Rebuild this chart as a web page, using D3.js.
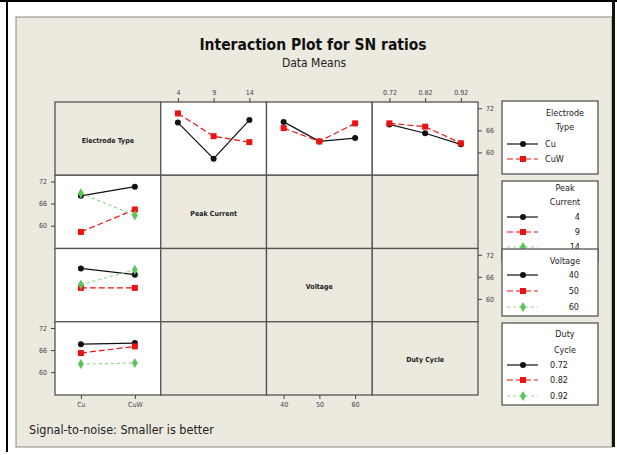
<!DOCTYPE html>
<html>
<head>
<meta charset="utf-8">
<script src="https://cdn.jsdelivr.net/npm/d3@7"></script>
<style>
  body { margin: 0; background: #fff; }
  text { font-family: "DejaVu Sans Condensed", "DejaVu Sans", sans-serif; }
</style>
</head>
<body>
<div id="chart"></div>
<script>
// factors and levels
var factorNames = ["Electrode Type", "Peak Current", "Voltage", "Duty Cycle"];
var electrodeTypes = ["Cu", "CuW"];
var peakCurrentLevels = [4, 9, 14];
var voltageLevels = [40, 50, 60];
var dutyCycleLevels = ["0.72", "0.82", "0.92"];

// SN ratio means (Cu / CuW) at each level of the other factor
var cuByPeak = [68.1, 58.3, 68.8];
var cuwByPeak = [70.6, 64.4, 62.8];
var cuByVoltage = [68.3, 63.0, 63.9];
var cuwByVoltage = [66.6, 63.0, 67.9];
var cuByDuty = [67.6, 65.2, 62.2];
var cuwByDuty = [67.9, 67.0, 62.5];

var yTicks = [60, 66, 72];

var levels = [electrodeTypes, peakCurrentLevels, voltageLevels, dutyCycleLevels];
var cuBy = [null, cuByPeak, cuByVoltage, cuByDuty];
var cuwBy = [null, cuwByPeak, cuwByVoltage, cuwByDuty];

var width = 617, height = 455;
var bg = "#ECE9DF";

var svg = d3.select("#chart").append("svg")
    .attr("width", width)
    .attr("height", height);

// frame
svg.append("rect").attr("x", 0).attr("y", 0).attr("width", width).attr("height", height).attr("fill", "#fff");
svg.append("rect").attr("x", 16).attr("y", 17).attr("width", 596).attr("height", 430)
    .attr("fill", bg).attr("stroke", "#8a8a86").attr("stroke-width", 1);
svg.append("rect").attr("x", 0).attr("y", 0).attr("width", width).attr("height", 2).attr("fill", "#000");
svg.append("rect").attr("x", 6).attr("y", 0).attr("width", 2).attr("height", 452).attr("fill", "#000");
svg.append("rect").attr("x", 612).attr("y", 0).attr("width", 3).attr("height", 447).attr("fill", "#111");

// titles
svg.append("text").attr("x", 313).attr("y", 50).attr("text-anchor", "middle")
    .attr("font-size", "15.5px").attr("font-weight", "bold").attr("fill", "#111")
    .text("Interaction Plot for SN ratios");
svg.append("text").attr("x", 314).attr("y", 67).attr("text-anchor", "middle")
    .attr("font-size", "12px").attr("fill", "#222")
    .text("Data Means");
svg.append("text").attr("x", 29).attr("y", 434)
    .attr("font-size", "12.5px").attr("fill", "#222")
    .text("Signal-to-noise: Smaller is better");

// matrix geometry
var gx0 = 55, gy0 = 102, gw = 423, gh = 293;
var cw = gw / 4, ch = gh / 4;

var styles = [
    {color: "#111", dash: null, shape: "circle"},
    {color: "#EE1111", dash: "6,3", shape: "square"},
    {color: "#5CC45C", dash: "3,3", shape: "diamond"}
];

function xScale(c) {
    return d3.scalePoint().domain(levels[c]).range([gx0 + c * cw, gx0 + (c + 1) * cw]).padding(0.48);
}
function yScale(r) {
    return d3.scaleLinear().domain([53.8, 73.7]).range([gy0 + (r + 1) * ch, gy0 + r * ch]);
}

function drawMarker(g, shape, color, x, y) {
    if (shape === "circle") {
        g.append("circle").attr("cx", x).attr("cy", y).attr("r", 3).attr("fill", color);
    } else if (shape === "square") {
        g.append("rect").attr("x", x - 3).attr("y", y - 3).attr("width", 6).attr("height", 6).attr("fill", color);
    } else {
        g.append("path").attr("d", d3.symbol(d3.symbolDiamond, 30)()).attr("transform", "translate(" + x + "," + y + ")").attr("fill", color);
    }
}

function drawSeries(g, pts, st) {
    var line = d3.line().x(d => d[0]).y(d => d[1]);
    var p = g.append("path").datum(pts).attr("d", line).attr("fill", "none")
        .attr("stroke", st.shape === "diamond" ? "#8fd68f" : st.color)
        .attr("stroke-width", 1.2);
    if (st.dash) p.attr("stroke-dasharray", st.dash);
    pts.forEach(d => drawMarker(g, st.shape, st.color, d[0], d[1]));
}

// cells
for (var r = 0; r < 4; r++) {
    for (var c = 0; c < 4; c++) {
        var isPlot = (r === 0 && c > 0) || (c === 0 && r > 0);
        svg.append("rect")
            .attr("x", gx0 + c * cw).attr("y", gy0 + r * ch)
            .attr("width", cw).attr("height", ch)
            .attr("fill", isPlot ? "#fff" : bg)
            .attr("stroke", "#555").attr("stroke-width", 1.3);
        if (r === c) {
            svg.append("text")
                .attr("x", gx0 + c * cw + cw / 2).attr("y", gy0 + r * ch + ch / 2 + 4)
                .attr("text-anchor", "middle").attr("font-size", "7px").attr("font-weight", "bold")
                .attr("fill", "#222").text(factorNames[r]);
        }
    }
}

// plots
var plots = svg.append("g");
for (var f = 1; f < 4; f++) {
    // top row: x = factor f, series = electrode type
    var xs = xScale(f), ys = yScale(0);
    drawSeries(plots, levels[f].map((lv, i) => [xs(lv), ys(cuBy[f][i])]), styles[0]);
    drawSeries(plots, levels[f].map((lv, i) => [xs(lv), ys(cuwBy[f][i])]), styles[1]);
    // first column: x = electrode type, series = levels of factor f
    var x0 = xScale(0), yr = yScale(f);
    levels[f].forEach(function (lv, j) {
        drawSeries(plots, [[x0("Cu"), yr(cuBy[f][j])], [x0("CuW"), yr(cuwBy[f][j])]], styles[j]);
    });
}

// axes
function styleAxis(g) {
    g.select(".domain").remove();
    g.selectAll(".tick line").attr("stroke", "#444");
    g.selectAll(".tick text").attr("font-size", "7px").attr("fill", "#444")
        .attr("font-family", "'DejaVu Sans Condensed', 'DejaVu Sans', sans-serif");
}
[1, 3].forEach(function (c) {
    svg.append("g").attr("transform", "translate(0," + gy0 + ")")
        .call(d3.axisTop(xScale(c)).tickSize(4).tickPadding(3).tickFormat(String)).call(styleAxis);
});
[0, 2].forEach(function (c) {
    svg.append("g").attr("transform", "translate(0," + (gy0 + gh) + ")")
        .call(d3.axisBottom(xScale(c)).tickSize(4).tickPadding(3).tickFormat(String)).call(styleAxis);
});
[0, 2].forEach(function (r) {
    svg.append("g").attr("transform", "translate(" + (gx0 + gw) + ",0)")
        .call(d3.axisRight(yScale(r)).tickValues(yTicks).tickSize(4).tickPadding(4)).call(styleAxis);
});
[1, 3].forEach(function (r) {
    svg.append("g").attr("transform", "translate(" + gx0 + ",0)")
        .call(d3.axisLeft(yScale(r)).tickValues(yTicks).tickSize(4).tickPadding(4)).call(styleAxis);
});

// legends
var legends = [
    {title: ["Electrode", "Type"], labels: electrodeTypes, y: 101, h: 73, titleY: [113, 127], rowY: [144, 159], anchor: "start", lx: 545},
    {title: ["Peak", "Current"], labels: peakCurrentLevels, y: 181, h: 80, titleY: [188, 202], rowY: [217, 232, 247], anchor: "end", lx: 580},
    {title: ["Voltage"], labels: voltageLevels, y: 249, h: 67, titleY: [261], rowY: [275, 291, 307], anchor: "end", lx: 579},
    {title: ["Duty", "Cycle"], labels: dutyCycleLevels, y: 323, h: 82, titleY: [334, 350], rowY: [365, 380, 396], anchor: "start", lx: 550}
];
legends.forEach(function (lg) {
    var g = svg.append("g");
    g.append("rect").attr("x", 502).attr("y", lg.y).attr("width", 96).attr("height", lg.h)
        .attr("fill", "#fff").attr("stroke", "#555").attr("stroke-width", 1.3);
    lg.title.forEach(function (t, i) {
        g.append("text").attr("x", 565).attr("y", lg.titleY[i] + 3).attr("text-anchor", "middle")
            .attr("font-size", "9px").attr("fill", "#222").text(t);
    });
    lg.labels.forEach(function (lab, j) {
        var st = styles[j], yy = lg.rowY[j];
        var ln = g.append("line").attr("x1", 507).attr("x2", 538).attr("y1", yy).attr("y2", yy)
            .attr("stroke", st.shape === "diamond" ? "#8fd68f" : st.color).attr("stroke-width", 1.2);
        if (st.dash) ln.attr("stroke-dasharray", st.dash);
        drawMarker(g, st.shape, st.color, 523, yy);
        g.append("text").attr("x", lg.lx).attr("y", yy + 3).attr("text-anchor", lg.anchor)
            .attr("font-size", "9px").attr("fill", "#222").text(String(lab));
    });
});
</script>
</body>
</html>
